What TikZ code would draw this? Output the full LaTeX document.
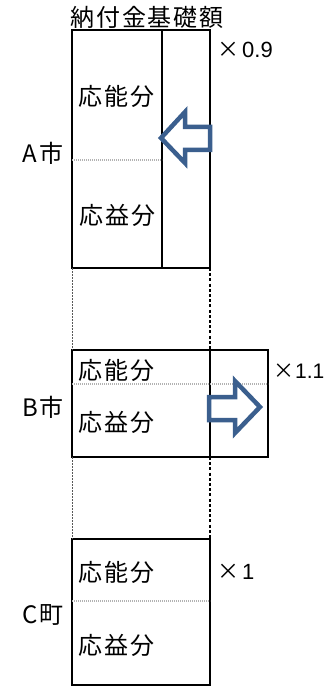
\documentclass[tikz,border=0pt]{standalone}
\usepackage{fontspec}
\setmainfont[LetterSpace=8]{Noto Sans CJK JP}
\newfontfamily\cjkplain{Noto Sans CJK JP}
\newfontfamily\numfont{Liberation Sans}
\definecolor{arrowblue}{RGB}{59,95,142}
\newcommand{\timesfac}[2][3pt]{{\cjkplain ×}\kern#1{\numfont #2}}
\begin{document}
\begin{tikzpicture}[x=1pt,y=-1pt,
  box/.style={draw=black,line width=2.5pt,inner sep=0,outer sep=0,anchor=north west},
  inner/.style={draw=black,line width=1.8pt},
  divline/.style={draw=gray!60,line width=2pt,dash pattern=on 1.2pt off 0.8pt},
  leftlink/.style={draw=gray!70!black,line width=1pt,dash pattern=on 2pt off 1pt},
  rightlink/.style={draw=black,line width=2.6pt,dash pattern=on 3pt off 2.2pt},
  lbl/.style={font=\fontsize{24}{24}\selectfont,inner sep=0},
  fac/.style={font=\fontsize{22}{24}\selectfont,inner sep=0,anchor=west},
  bigarrow/.style={draw=arrowblue,fill=white,line width=4.5pt,line join=miter}
]
\useasboundingbox (0,0) rectangle (328,687);

% title
\node[lbl] (title) at (147,17) {納付金基礎額};

% A box
\node[box,minimum width=138pt,minimum height=238pt] (Abox) at (72,30) {};
\coordinate (Atop) at (162,30);
\coordinate (Abot) at (162,268);
\draw[inner] (Atop) -- (Abot);
\coordinate (Adl) at (72,160);
\coordinate (Adr) at (162,160);
\draw[divline] (Adl) -- (Adr);
\node[lbl,anchor=west] (Aou) at (78,96.5) {応能分};
\node[lbl,anchor=west] (Aek) at (79,215) {応益分};
\node[lbl] (Aname) at (43,153) {A市};
\node[fac] (Afac) at (217,49.5) {\timesfac{0.9}};
\draw[bigarrow] (210,127) -- (185,127) -- (185,112) -- (161,138) -- (185,163) -- (185,150) -- (210,150) -- cycle;

% B box
\node[box,minimum width=196pt,minimum height=107pt] (Bbox) at (72,350) {};
\coordinate (Btop) at (210,350);
\coordinate (Bbot) at (210,457);
\draw[line width=2.5pt] (Btop) -- (Bbot);
\coordinate (Bdl) at (72,384);
\coordinate (Bdr) at (268,384);
\draw[divline] (Bdl) -- (Bdr);
\node[lbl,anchor=west] (Bou) at (78,370) {応能分};
\node[lbl,anchor=west] (Bek) at (78,422) {応益分};
\node[lbl] (Bname) at (43,407) {B市};
\node[fac,font=\fontsize{21}{24}\selectfont] (Bfac) at (273,371) {\timesfac[1pt]{1.1}};
\draw[bigarrow] (209,397) -- (235,397) -- (235,381) -- (260,407) -- (235,433) -- (235,420) -- (209,420) -- cycle;

% C box
\node[box,minimum width=138pt,minimum height=146pt] (Cbox) at (72,539) {};
\coordinate (Cdl) at (72,601);
\coordinate (Cdr) at (210,601);
\draw[divline] (Cdl) -- (Cdr);
\node[lbl,anchor=west] (Cou) at (78,572) {応能分};
\node[lbl,anchor=west] (Cek) at (78,645) {応益分};
\node[lbl] (Cname) at (43,615) {C町};
\node[fac] (Cfac) at (217,572) {\timesfac{1}};

% links
\draw[leftlink] (Abox.south west) -- (Bbox.north west);
\draw[rightlink] (Abox.south east) -- (Btop);
\draw[leftlink] (Bbox.south west) -- (Cbox.north west);
\draw[rightlink] (Bbot) -- (Cbox.north east);
\end{tikzpicture}
\end{document}
